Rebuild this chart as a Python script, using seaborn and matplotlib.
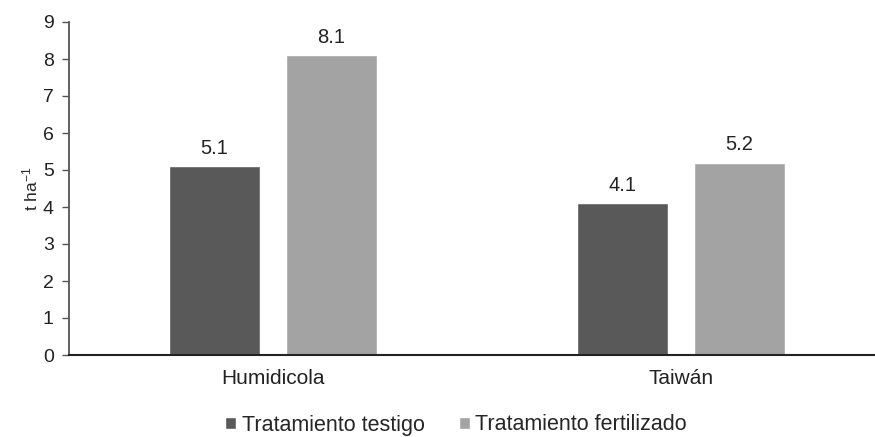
import matplotlib
matplotlib.use("Agg")
import matplotlib.pyplot as plt
import seaborn as sns
import pandas as pd

# values
pastos = ["Humidicola", "Taiwán"]
tratamientos = ["Tratamiento testigo", "Tratamiento fertilizado"]
testigo = [5.1, 4.1]
fertilizado = [8.1, 5.2]
yticks = list(range(0, 10))

df = pd.DataFrame({
    "pasto": pastos * 2,
    "tratamiento": [tratamientos[0]] * 2 + [tratamientos[1]] * 2,
    "valor": testigo + fertilizado,
})

sns.set_theme(style="white")
plt.rcParams["font.family"] = ["Liberation Sans", "DejaVu Sans"]
plt.rcParams["mathtext.default"] = "regular"

fig = plt.figure(figsize=(8.75, 4.37), dpi=100)
ax = fig.add_axes([69 / 875, 82 / 437, 806 / 875, 333 / 437])

sns.barplot(data=df, x="pasto", y="valor", hue="tratamiento",
            palette=["#595959", "#a3a3a3"], width=0.574, gap=0.216,
            saturation=1, ax=ax, legend=True)

for cont in ax.containers:
    ax.bar_label(cont, fmt="%.1f", padding=6, fontsize=14.5, color="#222222")

ax.set_ylim(0, 9)
ax.set_xlim(-0.5, -0.5 + 806 / 408)
ax.set_yticks(yticks)
ax.set_xlabel("")
ax.set_ylabel("t ha$^{-1}$", fontsize=12.5, labelpad=2)

sns.despine(ax=ax, top=True, right=True)
ax.spines["left"].set_color("#555555")
ax.spines["left"].set_linewidth(1.3)
ax.spines["bottom"].set_color("#222222")
ax.spines["bottom"].set_linewidth(1.5)

ax.tick_params(axis="y", which="both", left=True, length=5, width=1,
               color="#555555", labelsize=14, pad=6, labelcolor="#222222")
ax.tick_params(axis="x", length=0, labelsize=15, pad=10, labelcolor="#222222")

handles, labels = ax.get_legend_handles_labels()
ax.get_legend().remove()
fig.legend(handles, labels, loc="center", bbox_to_anchor=(456 / 875, 1 - 425 / 437),
           ncol=2, frameon=False, fontsize=15.5, handlelength=0.5, handleheight=0.5,
           handletextpad=0.25, columnspacing=1.6)

fig.savefig("out.png", dpi=100)
